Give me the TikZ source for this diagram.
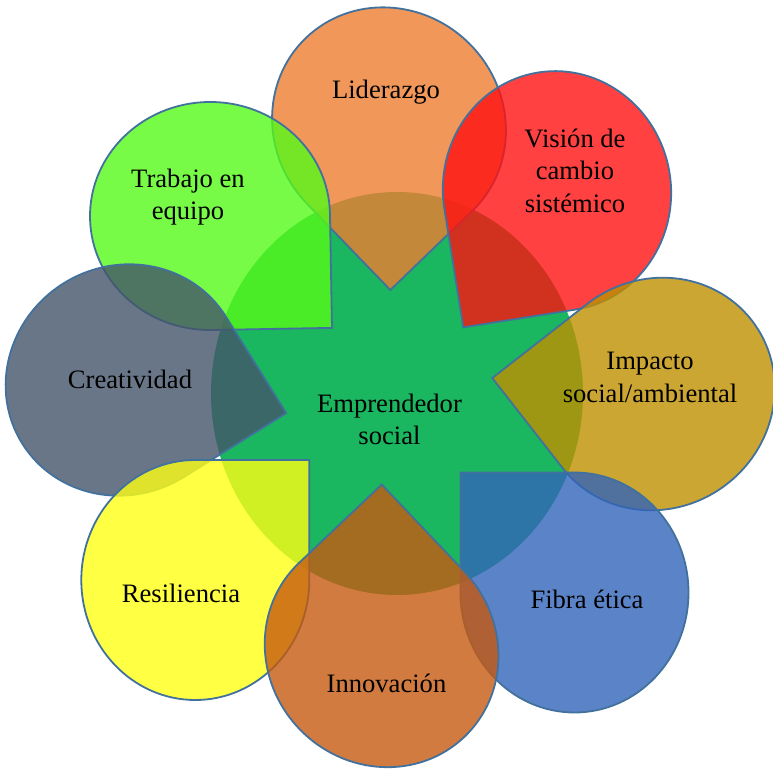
\documentclass[tikz,border=0pt]{standalone}
\usepackage{fontspec}
\setmainfont{Liberation Serif}

\definecolor{edgecol}{RGB}{65,113,156}
\definecolor{centercol}{RGB}{27,183,96}
\definecolor{lidercol}{RGB}{237,125,49}
\definecolor{visioncol}{RGB}{255,17,17}
\definecolor{impactocol}{RGB}{191,144,0}
\definecolor{fibracol}{RGB}{50,100,185}
\definecolor{innovcol}{RGB}{197,90,17}
\definecolor{resilcol}{RGB}{255,255,20}
\definecolor{creacol}{RGB}{68,84,106}
\definecolor{trabajocol}{RGB}{85,250,25}

\begin{document}
\begin{tikzpicture}[x=1pt, y=1pt,
    petal/.style={draw=edgecol, line width=1.8pt, fill opacity=0.8},
    word/.style={font=\fontsize{26.6}{32.5}\selectfont, align=center, inner sep=0pt}]
    \useasboundingbox (0,0) rectangle (773,769);

    % centre
    \fill[centercol] (397,375.5) ellipse [x radius=186, y radius=201.5];

    % petals
    \draw[petal, fill=lidercol, shift={(389,644.5)}, rotate=-136] (0,120) -- (114,120) -- (114,0) arc[start angle=0, end angle=-270, x radius=114, y radius=120] -- cycle;
    \draw[petal, fill=visioncol, shift={(557,578)}, rotate=-171] (0,120) -- (114,120) -- (114,0) arc[start angle=0, end angle=-270, x radius=114, y radius=120] -- cycle;
    \draw[petal, fill=impactocol, shift={(657,375)}, rotate=128] (0,120) -- (114,120) -- (114,0) arc[start angle=0, end angle=-270, x radius=114, y radius=120] -- cycle;
    \draw[petal, fill=fibracol, shift={(574.5,176.5)}, xscale=-1] (0,120) -- (114,120) -- (114,0) arc[start angle=0, end angle=-270, x radius=114, y radius=120] -- cycle;
    \draw[petal, fill=trabajocol, shift={(210,553)}, rotate=-89] (0,120) -- (114,120) -- (114,0) arc[start angle=0, end angle=-270, x radius=114, y radius=120] -- cycle;
    \draw[petal, fill=creacol, shift={(124,389)}, rotate=-58] (0,120) -- (114,120) -- (114,0) arc[start angle=0, end angle=-270, x radius=114, y radius=120] -- cycle;
    \draw[petal, fill=resilcol, shift={(195.3,189)}] (0,120) -- (114,120) -- (114,0) arc[start angle=0, end angle=-270, x radius=114, y radius=120] -- cycle;
    \draw[petal, fill=innovcol, shift={(381.6,119)}, rotate=43.5] (0,120) -- (114,120) -- (114,0) arc[start angle=0, end angle=-270, x radius=114, y radius=120] -- cycle;

    % labels
    \node[word] (emprendedor) at (389.5,349.8) {Emprendedor\\social};
    \node[word, anchor=base] (liderazgo) at (386,670) {Liderazgo};
    \node[word] (vision) at (575,598.6) {Visión de\\cambio\\sistémico};
    \node[word] (impacto) at (650,391.4) {Impacto\\social/ambiental};
    \node[word, anchor=base] (fibra) at (587,161) {Fibra ética};
    \node[word, anchor=base] (innovacion) at (386.5,77) {Innovación};
    \node[word, anchor=base] (resiliencia) at (181,167) {Resiliencia};
    \node[word, anchor=base] (creatividad) at (130,380) {Creatividad};
    \node[word] (trabajo) at (188,572) {Trabajo en\\equipo};
\end{tikzpicture}
\end{document}
